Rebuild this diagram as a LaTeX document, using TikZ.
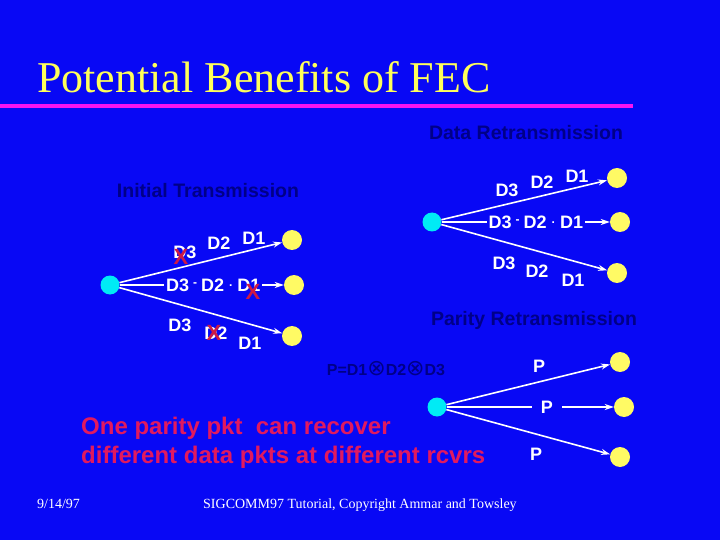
\documentclass[tikz,border=0pt]{standalone}
\usepackage{fontspec}
\setmainfont{Liberation Serif}
\setsansfont{Liberation Sans}
\newfontfamily\djv{DejaVu Sans}
\usetikzlibrary{arrows.meta}
\definecolor{bg}{RGB}{8,8,245}
\definecolor{ttl}{RGB}{255,255,90}
\definecolor{mag}{RGB}{250,20,240}
\definecolor{dk}{RGB}{0,0,135}
\definecolor{crim}{RGB}{225,25,95}
\definecolor{xred}{RGB}{205,25,70}
\definecolor{cy}{RGB}{0,235,245}
\definecolor{yl}{RGB}{255,250,100}
\tikzset{
  src/.style={circle,fill=cy,inner sep=0pt,minimum size=19pt},
  dst/.style={circle,fill=yl,inner sep=0pt,minimum size=20pt},
  arr/.style={white,line width=1.6pt,-{Stealth[length=9pt,width=6pt]}},
  lbl/.style={text=white,font=\sffamily\bfseries\fontsize{18}{18}\selectfont,inner sep=0pt},
  mlbl/.style={text=white,fill=bg,font=\sffamily\bfseries\fontsize{18}{18}\selectfont,inner sep=2pt},
  hdr/.style={text=dk,font=\sffamily\bfseries\fontsize{19.5}{19.5}\selectfont,inner sep=0pt},
  xmark/.style={text=xred,font=\sffamily\bfseries\fontsize{22}{22}\selectfont,inner sep=0pt},
  foot/.style={text=white,font=\rmfamily\fontsize{14}{14}\selectfont,inner sep=0pt,anchor=base west},
  redtxt/.style={anchor=base west,text=crim,font=\sffamily\bfseries\fontsize{24}{24}\selectfont,inner sep=0pt}
}
\newcommand{\hy}{\hspace{4pt}\raisebox{5pt}{\fontsize{12}{12}\selectfont-}\hspace{4pt}}
\newcommand{\hd}{\hspace{5pt}\raisebox{5pt}{\fontsize{12}{12}\selectfont.}\hspace{5pt}}
\newcommand{\ox}{{\djv\mdseries\fontsize{22}{22}\selectfont ⊗}}
\begin{document}
\begin{tikzpicture}[x=1pt,y=-1pt]
\fill[bg] (0,0) rectangle (720,540);
\useasboundingbox (0,0) rectangle (720,540);
% title
\node[anchor=base west,text=ttl,font=\rmfamily\fontsize{44}{44}\selectfont,inner sep=0pt] (title) at (37,93) {Potential Benefits of FEC};
\fill[mag] (0,104) rectangle (633,108);
% headers
\node[hdr] (h1) at (208,191) {Initial Transmission};
\node[hdr] (h2) at (526,133) {Data Retransmission};
\node[hdr] (h3) at (534,320) {Parity Retransmission};
\node[text=dk,font=\sffamily\bfseries\fontsize{16}{16}\selectfont,inner sep=0pt] (par) at (386,369) {P=D1\ox D2\ox D3};
% ---------- initial transmission
\node[src] (s1) at (110,285) {};
\node[dst] (t11) at (292,240) {};
\node[dst] (t12) at (294,285) {};
\node[dst] (t13) at (292,336) {};
\draw[arr] (s1) -- (t11);
\draw[arr] (s1) -- node[mlbl,pos=0.57] (m1) {D3\hy D2\hd D1} (t12);
\draw[arr] (s1) -- (t13);
\node[lbl] (a1) at (185,252) {D3};
\node[lbl] (a2) at (219,243) {D2};
\node[lbl] (a3) at (254,238) {D1};
\node[xmark] (x1) at (181,257) {X};
\node[xmark] (x2) at (253,292) {X};
\node[lbl] (b1) at (180,325) {D3};
\node[lbl] (b2) at (216,333) {D2};
\node[lbl] (b3) at (250,343) {D1};
\node[xmark] (x3) at (214,333) {X};
% ---------- data retransmission
\node[src] (s2) at (432,222) {};
\node[dst] (t21) at (617,178) {};
\node[dst] (t22) at (620,222) {};
\node[dst] (t23) at (617,273) {};
\draw[arr] (s2) -- (t21);
\draw[arr] (s2) -- node[mlbl,pos=0.56] (m2) {D3\hy D2\hd D1} (t22);
\draw[arr] (s2) -- (t23);
\node[lbl] (c1) at (507,190) {D3};
\node[lbl] (c2) at (542,182) {D2};
\node[lbl] (c3) at (577,176) {D1};
\node[lbl] (d1) at (504,263) {D3};
\node[lbl] (d2) at (537,271) {D2};
\node[lbl] (d3) at (573,280) {D1};
% ---------- parity retransmission
\node[src] (s3) at (437,407) {};
\node[dst] (t31) at (620,362) {};
\node[dst] (t32) at (624,407) {};
\node[dst] (t33) at (620,457) {};
\draw[arr] (s3) -- (t31);
\draw[arr] (s3) -- node[mlbl,pos=0.60,inner xsep=9pt] (m3) {P} (t32);
\draw[arr] (s3) -- (t33);
\node[lbl] (p1) at (539,366) {P};
\node[lbl] (p3) at (536,454) {P};
% ---------- red text
\node[redtxt] (r1) at (81,434) {One parity pkt\ \ can recover};
\node[redtxt] (r2) at (81,463) {different data pkts at different rcvrs};
% footer
\node[foot] (f1) at (37,508) {9/14/97};
\node[foot] (f2) at (203,508) {SIGCOMM97 Tutorial, Copyright Ammar and Towsley};
\end{tikzpicture}
\end{document}
